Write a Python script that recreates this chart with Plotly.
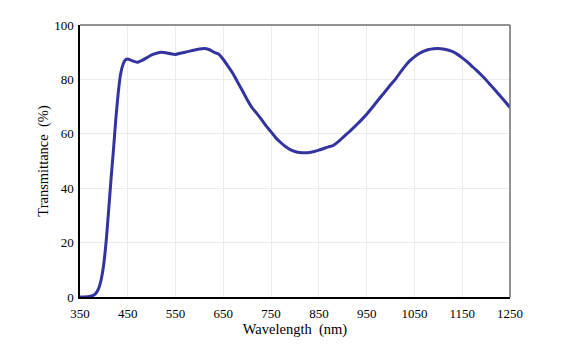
import plotly.graph_objects as go

wavelength = [
    350, 360, 370, 380, 385, 390, 395, 400, 405, 410, 415, 420, 425, 430,
    435, 440, 445, 450, 455, 460, 470, 480, 490, 500, 510, 520, 530, 540,
    550, 560, 570, 580, 590, 600, 610, 620, 630, 640, 650, 660, 670, 680,
    690, 700, 710, 720, 730, 740, 750, 760, 770, 780, 790, 800, 810, 820,
    830, 840, 850, 860, 870, 880, 890, 900, 910, 920, 930, 940, 950, 960,
    970, 980, 990, 1000, 1010, 1020, 1030, 1040, 1050, 1060, 1070, 1080,
    1090, 1100, 1110, 1120, 1130, 1140, 1150, 1160, 1170, 1180, 1190, 1200,
    1210, 1220, 1230, 1240, 1250,
]
transmittance = [
    0, 0, 0.2, 0.8, 1.8, 3.6, 7, 12.5, 21, 32, 43.5, 54, 65.5, 75,
    82, 85.5, 87.2, 87.5, 87.2, 86.8, 86.3, 87, 88, 89, 89.6, 90, 89.8, 89.4,
    89.2, 89.6, 90, 90.4, 90.8, 91.2, 91.4, 91, 90, 89.3, 87.3, 84.8, 82.2, 79,
    75.8, 72.5, 69.6, 67.5, 65.2, 62.8, 60.7, 58.5, 56.8, 55.3, 54.2, 53.5, 53.1, 53,
    53.1, 53.5, 54, 54.6, 55.2, 55.7, 57, 58.6, 60.2, 61.8, 63.5, 65.3, 67.2, 69.3,
    71.5, 73.7, 75.8, 78, 80, 82.5, 84.8, 86.8, 88.3, 89.5, 90.4, 91,
    91.3, 91.4, 91.2, 90.8, 90.2, 89.2, 87.9, 86.5, 84.9, 83.3, 81.6, 79.8,
    77.8, 75.8, 73.8, 71.8, 69.7,
]
x_ticks = [350, 450, 550, 650, 750, 850, 950, 1050, 1150, 1250]
y_ticks = [0, 20, 40, 60, 80, 100]

fig = go.Figure()
fig.add_trace(go.Scatter(
    x=wavelength, y=transmittance, mode="lines",
    line=dict(color="#3434a0", width=3, shape="spline", smoothing=0.5),
    showlegend=False,
))

serif = "Liberation Serif, Times New Roman, serif"
font = dict(family=serif, size=13, color="#000")
fig.update_layout(
    width=580, height=350,
    margin=dict(l=72, r=78, t=10, b=61),
    paper_bgcolor="white", plot_bgcolor="white",
    font=font,
    shapes=[
        dict(type="line", xref="paper", yref="paper", x0=0, x1=1, y0=1, y1=1,
             line=dict(color="#6e6e6e", width=1.5)),
        dict(type="line", xref="paper", yref="paper", x0=1, x1=1, y0=0, y1=1,
             line=dict(color="#6e6e6e", width=1.5)),
    ],
)
fig.update_xaxes(
    range=[350, 1250], tickvals=x_ticks, ticktext=[str(v) for v in x_ticks],
    tickfont=dict(family=serif, size=13, color="#000"),
    ticklabelstandoff=4,
    showgrid=True, gridcolor="#ececec", gridwidth=1,
    showline=True, linecolor="#000", linewidth=1.5, zeroline=False,
    ticks="", ticklen=0,
    title=dict(text="Wavelength\u00a0\u00a0(nm)", font=dict(family=serif, size=14.5, color="#000"), standoff=3),
)
fig.update_yaxes(
    range=[0, 100], tickvals=y_ticks, ticktext=[str(v) for v in y_ticks],
    tickfont=dict(family=serif, size=13, color="#000"),
    ticklabelstandoff=2,
    showgrid=True, gridcolor="#ececec", gridwidth=1,
    showline=True, linecolor="#000", linewidth=1.5, zeroline=False,
    ticks="", ticklen=0,
    title=dict(text="Transmittance\u00a0\u00a0(%)", font=dict(family=serif, size=14.5, color="#000"), standoff=2),
)

fig.write_html("out.html")
